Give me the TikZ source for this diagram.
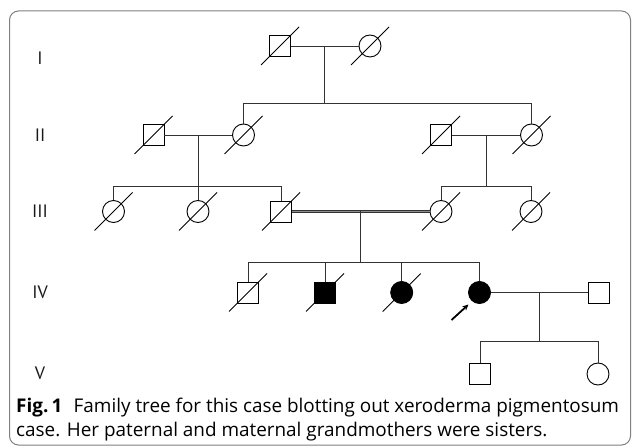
\documentclass[tikz,border=0pt]{standalone}
\usepackage{fontspec}
\newfontfamily\capfont{Open Sans}
\newfontfamily\genfont{PT Sans}
\usetikzlibrary{calc,arrows.meta}
\newcommand\deadmark[1]{\draw[slashline] ($(#1.center)+(-19,19)$) -- ($(#1.center)+(19,-19)$);}
\begin{document}
\begin{tikzpicture}[x=1pt,y=-1pt,
  male/.style={rectangle,draw=black,line width=0.9pt,minimum size=21pt,inner sep=0pt},
  female/.style={circle,draw=black,line width=0.9pt,minimum size=22pt,inner sep=0pt},
  aff/.style={fill=black},
  link/.style={draw=black!80,line width=0.9pt},
  consang/.style={draw=black!80,line width=0.7pt,double=black!45,double distance=1.1pt},
  slashline/.style={draw=black,line width=0.8pt},
  gen/.style={font=\genfont\fontsize{18}{18}\selectfont,text=black!90},
  captext/.style={font=\capfont\fontsize{18.9}{22}\selectfont,anchor=base west,inner sep=0pt},
  frame/.style={draw=black!50,line width=1pt,rounded corners=9pt}]
\useasboundingbox (0,0) rectangle (632,446);
\draw[frame] (9.5,11) rectangle (630.5,445);
% generation labels
\node[gen] (gI) at (40,58) {I};
\node[gen] (gII) at (40,135) {II};
\node[gen] (gIII) at (40,211.5) {III};
\node[gen] (gIV) at (40,292.5) {IV};
\node[gen] (gV) at (40,373) {V};
% generation I
\node[male] (A) at (280,46) {};
\node[female] (B) at (370,46) {};
% generation II
\node[male] (C) at (153.5,135) {};
\node[female] (D) at (243.5,135) {};
\node[male] (E) at (441,135) {};
\node[female] (F) at (531.5,135) {};
% generation III
\node[female] (G) at (113.5,211.5) {};
\node[female] (H) at (198,211.5) {};
\node[male] (J) at (281,211.5) {};
\node[female] (K) at (441,211.5) {};
\node[female] (L) at (531,211.5) {};
% generation IV
\node[male] (M) at (248,292.5) {};
\node[male,aff] (N) at (325,292.5) {};
\node[female,aff] (O) at (401.7,292.5) {};
\node[female,aff] (P) at (479.5,292.5) {};
\node[male] (Q) at (598.7,292.5) {};
% generation V
\node[male] (R) at (480.4,374) {};
\node[female] (S) at (598,374) {};
% sibship levels
\coordinate (yI) at (0,103.5);
\coordinate (yII) at (0,186);
\coordinate (yIII) at (0,262);
\coordinate (yIV) at (0,341);
% I
\draw[link] (A.east) -- (B.west);
\coordinate (mAB) at ($(A.east)!.5!(B.west)$);
\draw[link] (mAB) -- (mAB |- yI);
\draw[link] (D.north) -- (D.north |- yI) -- (F.north |- yI) -- (F.north);
% II left
\draw[link] (C.east) -- (D.west);
\coordinate (mCD) at ($(C.east)!.5!(D.west)$);
\draw[link] (mCD) -- (mCD |- yII);
\draw[link] (G.north) -- (G.north |- yII) -- (J.north |- yII) -- (J.north);
\draw[link] (H.north) -- (H.north |- yII);
% II right
\draw[link] (E.east) -- (F.west);
\coordinate (mEF) at ($(E.east)!.5!(F.west)$);
\draw[link] (mEF) -- (mEF |- yII);
\draw[link] (K.north) -- (K.north |- yII) -- (L.north |- yII) -- (L.north);
% III consanguineous
\draw[consang] (J.east) -- (K.west);
\coordinate (mJK) at ($(J.east)!.5!(K.west)$);
\draw[link] (mJK) -- (mJK |- yIII);
\draw[link] (M.north) -- (M.north |- yIII) -- (P.north |- yIII) -- (P.north);
\draw[link] (N.north) -- (N.north |- yIII);
\draw[link] (O.north) -- (O.north |- yIII);
% IV
\draw[link] (P.east) -- (Q.west);
\coordinate (mPQ) at ($(P.east)!.5!(Q.west)$);
\draw[link] (mPQ) -- (mPQ |- yIV);
\draw[link] (R.north) -- (R.north |- yIV) -- (S.north |- yIV) -- (S.north);
% deceased marks
\foreach \n in {A,B,C,D,E,F,G,H,J,K,L,M,N,O} {\deadmark{\n}}
% proband arrow
\coordinate (arrS) at ($(P.center)+(-28,27.5)$);
\draw[line width=1.8pt,-{Stealth[length=6pt,width=5.5pt]}] (arrS) -- ($(P.center)+(-11,12)$);
% caption
\node[captext] (cap1) at (16,412) {\textbf{Fig.\,1}\hspace{0.6em}Family tree for this case blotting out xeroderma pigmentosum};
\node[captext] (cap2) at (16,436) {case. Her paternal and maternal grandmothers were sisters.};
\end{tikzpicture}
\end{document}
